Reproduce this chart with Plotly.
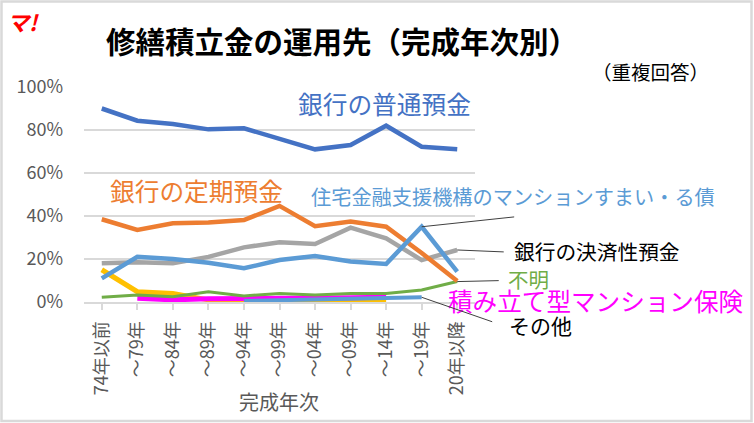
import plotly.graph_objects as go

categories = ["74年以前", "～79年", "～84年", "～89年", "～94年", "～99年",
              "～04年", "～09年", "～14年", "～19年", "20年以降"]
idx = list(range(len(categories)))

futsu = [0.900, 0.843, 0.828, 0.803, 0.808, 0.758, 0.710, 0.730, 0.820, 0.722, 0.710]
teiki = [0.385, 0.335, 0.366, 0.370, 0.381, 0.447, 0.353, 0.374, 0.350, 0.228, 0.098]
kessai = [0.180, 0.185, 0.180, 0.210, 0.254, 0.278, 0.270, 0.346, 0.296, 0.195, 0.242]
juutaku = [0.110, 0.210, 0.200, 0.183, 0.157, 0.195, 0.214, 0.188, 0.177, 0.350, 0.141]
yellow = [0.150, 0.048, 0.040, 0.010, 0.005, 0.003, 0.003, 0.003, 0.003, None, None]
fumei = [0.022, 0.033, 0.025, 0.048, 0.028, 0.040, 0.033, 0.040, 0.040, 0.056, 0.095]
hoken = [None, 0.017, 0.010, 0.015, 0.015, 0.020, 0.017, 0.020, 0.022, None, None]
sonota = [None, None, None, None, 0.005, 0.008, 0.010, 0.012, 0.015, 0.022, None]

yticks = [0, 0.2, 0.4, 0.6, 0.8, 1.0]
ytick_text = ["0%", "20%", "40%", "60%", "80%", "100%"]

FONT = "Noto Sans CJK JP"
W, H = 754, 423
L, R, T, B = 84, 475, 87, 302   # plot area pixels


def px(x):
    return (x - L) / (R - L)


def py(y):
    return (B - y) / (B - T)


series = [
    (yellow, "#FFC000", 5),
    (hoken, "#FF00FF", 5),
    (sonota, "#5B9BD5", 4),
    (fumei, "#70AD47", 3),
    (kessai, "#A5A5A5", 4.5),
    (teiki, "#ED7D31", 4.5),
    (juutaku, "#5B9BD5", 4.5),
    (futsu, "#4472C4", 4.5),
]

fig = go.Figure()
for vals, col, w in series:
    fig.add_trace(go.Scatter(x=idx, y=vals, mode="lines",
                             line=dict(color=col, width=w),
                             connectgaps=False, hoverinfo="skip"))

ann = []


def label(text, x, y, size, color, xanchor="left", bold=False):
    t = f"<b>{text}</b>" if bold else text
    ann.append(dict(text=t, x=px(x), y=py(y), xref="paper", yref="paper",
                    xanchor=xanchor, yanchor="middle", showarrow=False,
                    font=dict(family=FONT, size=size, color=color)))


label("修繕積立金の運用先（完成年次別）", 342, 40, 29.5, "#000000", "center", bold=True)
label("（重複回答）", 650, 71, 19.5, "#000000", "center")
label("銀行の普通預金", 384, 103, 24.7, "#4472C4", "center")
label("銀行の定期預金", 196, 190, 24.7, "#ED7D31", "center")
label("住宅金融支援機構のマンションすまい・る債", 309, 196, 20.2, "#5B9BD5")
label("銀行の決済性預金", 512, 251, 20.7, "#000000")
label("不明", 506, 279, 20.5, "#70AD47")
label("積み立て型マンション保険", 446, 300, 24.6, "#FF00FF")
label("その他", 507, 325, 21, "#000000")
label("完成年次", 279, 401, 20, "#595959", "center")

ann.append(dict(text="<i><b>マ!</b></i>", x=px(23), y=py(21), xref="paper", yref="paper",
                xanchor="center", yanchor="middle", showarrow=False,
                font=dict(family=FONT, size=22, color="#FF0000")))


def leader(i, vals, ax, ay):
    ann.append(dict(text="", x=idx[i], y=vals[i], xref="x", yref="y",
                    showarrow=True, arrowhead=0, arrowwidth=1, arrowcolor="#404040",
                    ax=ax, ay=ay, standoff=0, startstandoff=0))


leader(9, juutaku, 94, -10)
leader(10, kessai, 48, 2)
leader(10, fumei, 43, -1)
leader(9, sonota, 72, 25)

shapes = [dict(type="rect", xref="paper", yref="paper",
               x0=px(1.5), x1=px(751.5), y0=py(421), y1=py(1.5),
               line=dict(color="#D9D9D9", width=2.5), layer="below")]

fig.update_layout(
    width=W, height=H,
    margin=dict(l=L, r=W - R, t=T, b=H - B, pad=0),
    paper_bgcolor="white", plot_bgcolor="white",
    showlegend=False,
    font=dict(family=FONT, color="#595959"),
    annotations=ann, shapes=shapes,
    xaxis=dict(range=[-0.5, len(categories) - 0.5], tickvals=idx, ticktext=categories,
               tickangle=-90, showgrid=False, zeroline=False,
               showline=True, linecolor="#D9D9D9", linewidth=2,
               ticks="outside", ticklen=6, tickwidth=2, tickcolor="#D9D9D9",
               tickson="boundaries", ticklabelstandoff=4,
               tickfont=dict(family=FONT, size=18, color="#595959")),
    yaxis=dict(range=[0, 1.0], tickvals=yticks, ticktext=ytick_text,
               showgrid=True, gridcolor="#D9D9D9", gridwidth=2,
               zeroline=False, showline=False, ticks="",
               ticklabelstandoff=20,
               tickfont=dict(family=FONT, size=18, color="#595959")),
)

fig.write_html("out.html", config={"displayModeBar": False},
               post_script="document.body.style.margin='0';document.body.style.overflow='hidden';")
